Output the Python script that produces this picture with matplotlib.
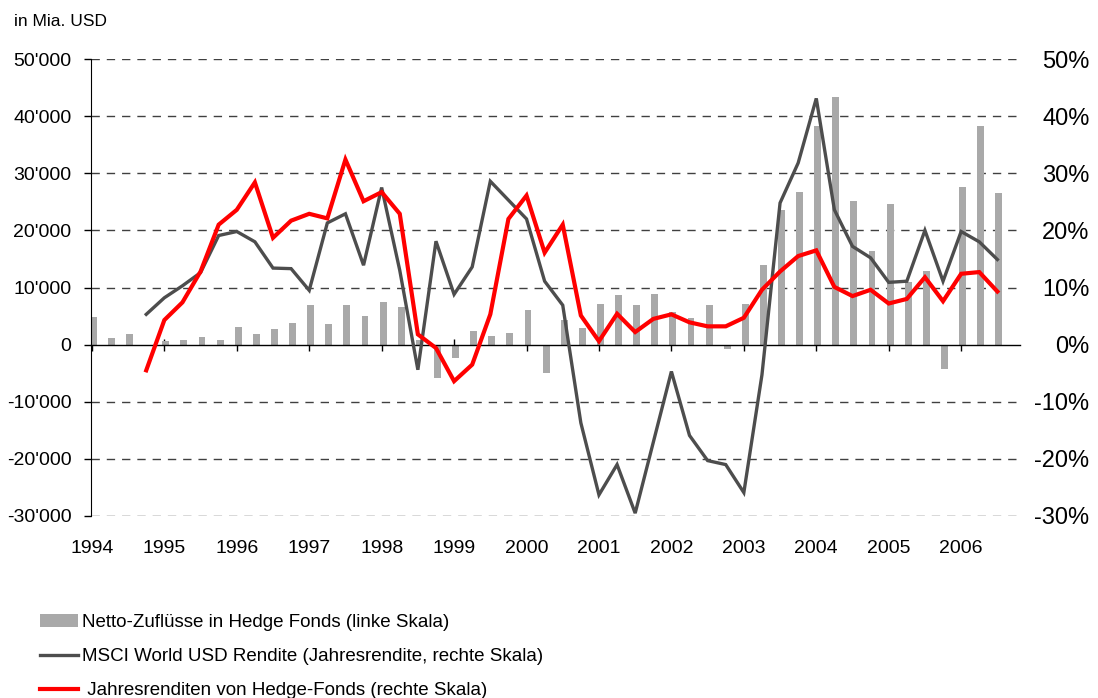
import matplotlib
matplotlib.use("Agg")
import matplotlib.pyplot as plt
from matplotlib.ticker import FuncFormatter

plt.rcParams['font.family'] = ['Liberation Sans', 'DejaVu Sans']

# quarterly data 1994 Q1 .. 2006 Q3
years = ['1994', '1995', '1996', '1997', '1998', '1999', '2000',
         '2001', '2002', '2003', '2004', '2005', '2006']

# net inflows into hedge funds (left scale)
inflows = [4900, 1200, 1800, 0, 700, 800, 1400, 800, 3100, 1900, 2800, 3800,
           7000, 3600, 7000, 5000, 7500, 6600, 800, -5800, -2300, 2400, 1500, 2100,
           6100, -4900, 4300, 2900, 7100, 8700, 6900, 8800, 5700, 4600, 7000, -700,
           7100, 13900, 23500, 26800, 38300, 43400, 25100, 16400, 24600, 11000, 12900, -4200,
           27600, 38300, 26500]

# MSCI World USD annual return (right scale), starts 1994 Q4
msci = [None, None, None, 5.3, 8.2, 10.3, 12.6, 19.1, 19.8, 18.0, 13.4, 13.3,
        9.5, 21.3, 22.9, 13.9, 27.5, 13.0, -4.4, 18.1, 8.8, 13.6, 28.6, 25.3,
        22.0, 11.1, 6.9, -13.7, -26.3, -21.0, -29.5, -17.1, -4.7, -15.9, -20.3, -21.0,
        -25.9, -5.3, 24.8, 31.8, 43.1, 23.6, 17.2, 15.2, 10.9, 11.1, 20.0, 11.1,
        19.8, 18.0, 14.9]

# hedge fund annual returns (right scale)
hedge = [None, None, None, -4.5, 4.3, 7.4, 12.8, 21.0, 23.6, 28.4, 18.7, 21.7,
         22.9, 22.1, 32.4, 25.1, 26.7, 22.9, 1.8, -0.6, -6.4, -3.5, 5.3, 22.0,
         26.1, 16.1, 21.0, 5.1, 0.6, 5.4, 2.2, 4.5, 5.3, 3.9, 3.2, 3.2,
         4.7, 9.6, 12.8, 15.5, 16.5, 10.1, 8.5, 9.6, 7.2, 8.0, 11.8, 7.6,
         12.4, 12.7, 9.3]

labels = ['Netto-Zuflüsse in Hedge Fonds (linke Skala)',
          'MSCI World USD Rendite (Jahresrendite, rechte Skala)',
          ' Jahresrenditen von Hedge-Fonds (rechte Skala)']

fig = plt.figure(figsize=(10.98, 6.98), dpi=100)
ax = fig.add_axes([91 / 1098, 182 / 698, 929 / 1098, 457 / 698])
ax2 = ax.twinx()

x = list(range(len(inflows)))
bars = ax.bar([i + 0.08 for i in x], inflows, width=0.38, color='#a9a9a9',
              zorder=2, label=labels[0])

mx = [i for i in x if msci[i] is not None]
l1, = ax2.plot(mx, [msci[i] for i in mx], color='#4d4d4d', lw=2.4,
               solid_joinstyle='miter', label=labels[1])
l2, = ax2.plot(mx, [hedge[i] for i in mx], color='#ff0000', lw=3.0,
               solid_joinstyle='miter', label=labels[2])

ax.set_xlim(-0.05, 51.25)
ax.set_ylim(-30000, 50000)
ax2.set_ylim(-30, 50)

# left axis
ax.set_yticks(range(-30000, 50001, 10000))
ax.yaxis.set_major_formatter(FuncFormatter(lambda v, p: f"{int(v):,}".replace(',', "'")))
ax.tick_params(axis='y', direction='out', length=5, width=1, pad=9, labelsize=14)
for y in range(-30000, 50001, 10000):
    if y != 0:
        ax.axhline(y, color='#404040', lw=1, dashes=(6, 5), zorder=1)

# x axis on the zero line, labels at the bottom
ax.spines['bottom'].set_position(('data', 0))
ax.spines['bottom'].set_linewidth(1)
ax.spines['top'].set_visible(False)
ax.spines['right'].set_visible(False)
ax.set_xticks(range(0, 49, 4))
ax.tick_params(axis='x', direction='inout', length=9, width=1, labelbottom=False)
sec = ax.secondary_xaxis('bottom')
sec.set_xticks(range(0, 49, 4), years)
sec.tick_params(length=0, pad=17, labelsize=14)
sec.spines['bottom'].set_visible(False)

# right axis, labels right aligned
for s in ax2.spines.values():
    s.set_visible(False)
ax2.set_yticks(range(-30, 51, 10))
ax2.yaxis.set_major_formatter(FuncFormatter(lambda v, p: f"{int(v)}%"))
ax2.tick_params(axis='y', length=0, pad=50, labelsize=17)
plt.setp(ax2.get_yticklabels(), ha='right')

fig.text(14 / 1098, 1 - 22 / 698, 'in Mia. USD', fontsize=12.5, va='center', ha='left')

fig.legend([bars, l1, l2], labels, loc='upper left', bbox_to_anchor=(40 / 1098, 1 - 614 / 698),
           frameon=False, fontsize=13.5, handlelength=2.05, handletextpad=0.2,
           labelspacing=0.9, borderpad=0, borderaxespad=0)

fig.savefig('out.png', dpi=100)
